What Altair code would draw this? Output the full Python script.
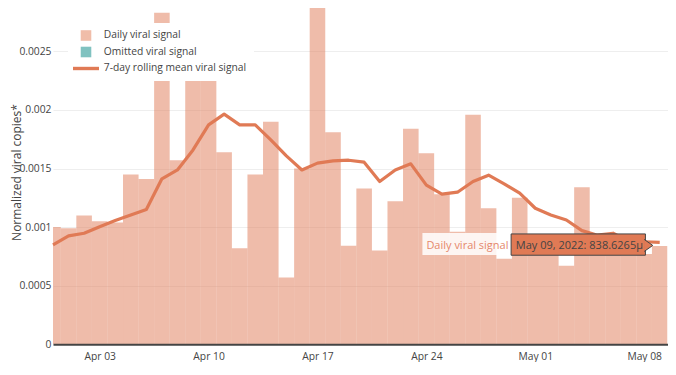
import altair as alt
import pandas as pd

# ---------------- data ----------------
dates = [
    "2022-03-31", "2022-04-01", "2022-04-02", "2022-04-03", "2022-04-04",
    "2022-04-05", "2022-04-06", "2022-04-07", "2022-04-08", "2022-04-09",
    "2022-04-10", "2022-04-11", "2022-04-12", "2022-04-13", "2022-04-14",
    "2022-04-15", "2022-04-16", "2022-04-17", "2022-04-18", "2022-04-19",
    "2022-04-20", "2022-04-21", "2022-04-22", "2022-04-23", "2022-04-24",
    "2022-04-25", "2022-04-26", "2022-04-27", "2022-04-28", "2022-04-29",
    "2022-04-30", "2022-05-01", "2022-05-02", "2022-05-03", "2022-05-04",
    "2022-05-05", "2022-05-06", "2022-05-07", "2022-05-08", "2022-05-09",
]
daily_signal = [
    0.00100, 0.00099, 0.00110, 0.00105, 0.00104,
    0.00145, 0.00141, 0.00283, 0.00157, 0.00232,
    0.00252, 0.00164, 0.00082, 0.00145, 0.00190,
    0.00057, 0.00150, 0.00291, 0.00181, 0.00084,
    0.00133, 0.00080, 0.00122, 0.00184, 0.00163,
    0.00128, 0.00096, 0.00196, 0.00116, 0.00073,
    0.00125, 0.00078, 0.00088, 0.00067, 0.00134,
    0.00089, 0.00085, 0.00076, 0.00077, 0.0008386265,
]
rolling_mean = [
    0.000848, 0.000925, 0.000948, 0.001004, 0.001056,
    0.001104, 0.001150, 0.001412, 0.001488, 0.001659,
    0.001873, 0.001964, 0.001873, 0.001873, 0.001745,
    0.001608, 0.001488, 0.001546, 0.001565, 0.001571,
    0.001554, 0.001389, 0.001488, 0.001540, 0.001358,
    0.001281, 0.001298, 0.001389, 0.001443, 0.001369,
    0.001290, 0.001161, 0.001104, 0.001061, 0.000970,
    0.000931, 0.000948, 0.000878, 0.000875, 0.000870,
]
tick_dates = ["2022-04-03", "2022-04-10", "2022-04-17", "2022-04-24", "2022-05-01", "2022-05-08"]
y_ticks = [0, 0.0005, 0.001, 0.0015, 0.002, 0.0025]
x_domain = ["2022-03-31T00:00", "2022-05-09T12:00"]
y_domain = [0, 0.00287]

legend_labels = ["Daily viral signal", "Omitted viral signal", "7-day rolling mean viral signal"]
legend_colors = ["#F0BDA9", "#80C2C0", "#E07A55"]
legend_shapes = ["square", "square", "M-2.46,-0.32L2.46,-0.32L2.46,0.32L-2.46,0.32Z"]

hover_date = "2022-05-09"
hover_value = 0.0008386265
hover_name = "Daily viral signal"
hover_text = "May 09, 2022: 838.6265\u00b5"

LINE = "#E07A55"
TXT = "#444444"
FONT = "Open Sans"

# ---------------- frames ----------------
df = pd.DataFrame({"date": pd.to_datetime(dates), "signal": daily_signal, "mean": rolling_mean})
df["start"] = df["date"] - pd.Timedelta(hours=12)
df["end"] = df["date"] + pd.Timedelta(hours=12)

leg_df = pd.DataFrame({"series": legend_labels})
hover_df = pd.DataFrame({
    "date": [pd.Timestamp(hover_date)], "value": [hover_value],
    "name": [hover_name], "text": [hover_text],
})


def dt(s):
    t = pd.Timestamp(s)
    return alt.DateTime(year=t.year, month=t.month, date=t.day, hours=t.hour)


xscale = alt.Scale(domain=[dt(d) for d in x_domain], nice=False)
yscale = alt.Scale(domain=y_domain, nice=False, zero=True)

xaxis = alt.Axis(
    values=[dt(d) for d in tick_dates], format="%b %d", title=None,
    labelFont=FONT, labelFontSize=10.3, labelColor=TXT,
    ticks=False, tickSize=0, grid=False,
    domainColor=TXT, domainWidth=2, labelPadding=12, labelBaseline="middle",
    zindex=1,
)
yaxis = alt.Axis(
    values=y_ticks, format="~g", title="Normalized viral copies*",
    labelFont=FONT, labelFontSize=10.3, labelColor=TXT, labelPadding=2,
    ticks=False, tickSize=0, domain=False,
    grid=True, gridColor="#eeeeee", gridWidth=1,
    titleFont=FONT, titleFontSize=12, titleFontWeight="normal", titleColor=TXT,
    titleX=-37, titleY=164, titleAlign="center", titleBaseline="middle",
)

bars = alt.Chart(df).mark_bar(color=LINE, opacity=0.5, clip=True).encode(
    x=alt.X("start:T", scale=xscale, axis=xaxis),
    x2="end:T",
    y=alt.Y("signal:Q", scale=yscale, axis=yaxis),
    y2=alt.datum(0),
)

line = alt.Chart(df).mark_line(color=LINE, strokeWidth=3.2, strokeJoin="round").encode(
    x="date:T", y="mean:Q",
)

legend = alt.Legend(
    title=None, orient="none", legendX=15, legendY=15, fillColor="white",
    padding=7, symbolOffset=5.5, labelOffset=12.3, rowPadding=5.5,
    labelFont=FONT, labelFontSize=10.3, labelColor=TXT, labelLimit=0,
    symbolSize=112, symbolStrokeWidth=0, symbolOpacity=1,
)
legend_pts = alt.Chart(leg_df).mark_point(filled=True, opacity=0).encode(
    color=alt.Color("series:N", scale=alt.Scale(domain=legend_labels, range=legend_colors), legend=legend),
    shape=alt.Shape("series:N", scale=alt.Scale(domain=legend_labels, range=legend_shapes), legend=legend),
)

hb = alt.Chart(hover_df)
hpos = dict(x="date:T", x2="date:T", y="value:Q", y2="value:Q")
name_box = hb.mark_rect(fill="white", opacity=0.85, xOffset=-237.3, x2Offset=-148.6,
                        yOffset=-13, y2Offset=9).encode(**hpos)
value_box = hb.mark_rect(fill=LINE, stroke=TXT, strokeWidth=1, xOffset=-148.6, x2Offset=-14.3,
                         yOffset=-12.1, y2Offset=9.2).encode(**hpos)
arrow = hb.mark_point(shape="M-1.2,-1L0.22,0L-1.2,1", size=144, filled=True, fill=LINE,
                      stroke=TXT, strokeWidth=1, opacity=1, xOffset=-8.3, yOffset=-0.6).encode(
    x="date:T", y="value:Q")
name_text = hb.mark_text(font=FONT, fontSize=11, color="#E5876A", align="center",
                         baseline="alphabetic", dx=-192.3, dy=3).encode(
    x="date:T", y="value:Q", text="name:N")
value_text = hb.mark_text(font=FONT, fontSize=11, color=TXT, align="center",
                          baseline="alphabetic", dx=-80.3, dy=3).encode(
    x="date:T", y="value:Q", text="text:N")

chart = alt.layer(
    bars, line, legend_pts, name_box, value_box, arrow, name_text, value_text
).properties(
    width=614.5, height=336.3,
    padding={"left": 45, "top": 0, "right": 0, "bottom": 17.5},
    autosize=alt.AutoSizeParams(type="none"),
    background="white",
).configure(font=FONT).configure_view(stroke=None)

chart.save("out.html", embed_options={"renderer": "svg", "actions": False})
